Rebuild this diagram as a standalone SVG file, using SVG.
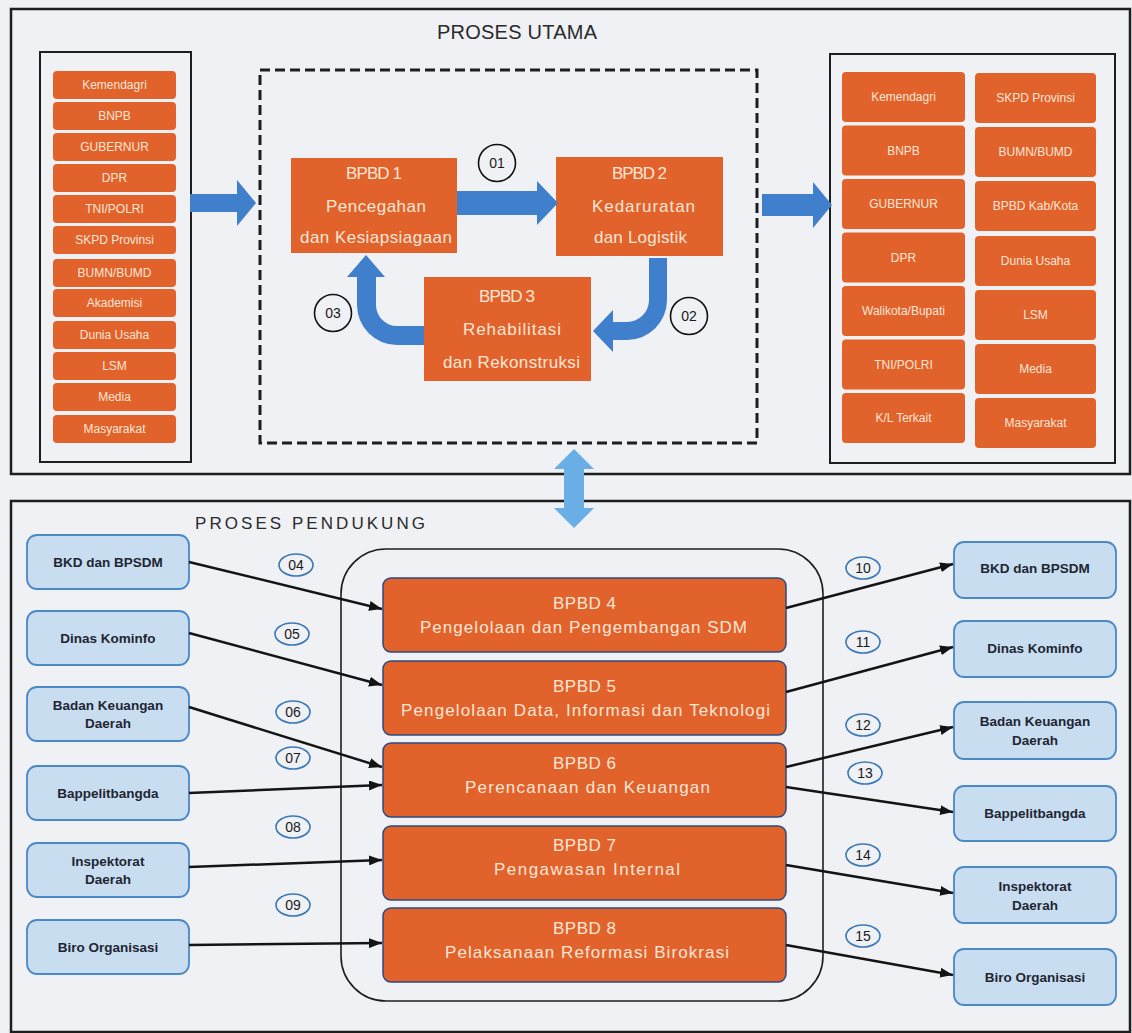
<svg xmlns="http://www.w3.org/2000/svg" width="1132" height="1033" viewBox="0 0 1132 1033">
<defs>
<style>
.frame{fill:none;stroke:#1e1e1e;stroke-width:2.5}
.list{fill:none;stroke:#1e1e1e;stroke-width:2}
.ob{fill:#e2622b;rx:4px}
.obt{font-family:"Liberation Sans",Arial,sans-serif;font-size:12px;fill:#fde6d6;text-anchor:middle}
.big{fill:#e2622b}
.bigt{font-family:"Liberation Sans",Arial,sans-serif;font-size:17px;fill:#fde6d6;text-anchor:middle}
.sup{fill:#e2622b;stroke:#2d4a80;stroke-width:1.5}
.bb{fill:#c8ddef;stroke:#4a88c6;stroke-width:1.8}
.bbt{font-family:"Liberation Sans",Arial,sans-serif;font-size:13.5px;font-weight:bold;fill:#1f2633;text-anchor:middle}
.arr{fill:#3f7fcc}
.lbl{fill:none;stroke:#111;stroke-width:1.6}
.lblt{font-family:"Liberation Sans",Arial,sans-serif;font-size:14px;fill:#1a1a1a;text-anchor:middle}
.el{fill:none;stroke:#3a78b8;stroke-width:1.6}
.con{stroke:#141414;stroke-width:2.5;fill:none;marker-end:url(#ah)}
.title{font-family:"Liberation Sans",Arial,sans-serif;font-size:20px;fill:#2a2a2a}
</style>
<marker id="ah" markerUnits="userSpaceOnUse" markerWidth="13" markerHeight="10" refX="13" refY="5" orient="auto">
<path d="M0,0 L13,5 L0,10 z" fill="#141414"/>
</marker>
</defs>
<rect x="0" y="0" width="1132" height="1033" fill="#eff1f5"/>

<g id="proses-utama">
<rect class="frame" x="11" y="9" width="1119" height="465"/>
<text class="title" x="517" y="39" text-anchor="middle" textLength="160" lengthAdjust="spacing">PROSES UTAMA</text>
</g>

<g id="stakeholders-in">
<rect class="list" x="40" y="52" width="151" height="410"/>
<rect class="ob" x="53" y="71" width="123" height="28"/><text class="obt" x="114.5" y="89">Kemendagri</text>
<rect class="ob" x="53" y="102" width="123" height="28"/><text class="obt" x="114.5" y="120">BNPB</text>
<rect class="ob" x="53" y="133" width="123" height="28"/><text class="obt" x="114.5" y="151">GUBERNUR</text>
<rect class="ob" x="53" y="164" width="123" height="28"/><text class="obt" x="114.5" y="182">DPR</text>
<rect class="ob" x="53" y="195" width="123" height="28"/><text class="obt" x="114.5" y="213">TNI/POLRI</text>
<rect class="ob" x="53" y="226" width="123" height="28"/><text class="obt" x="114.5" y="244">SKPD Provinsi</text>
<rect class="ob" x="53" y="259" width="123" height="28"/><text class="obt" x="114.5" y="277">BUMN/BUMD</text>
<rect class="ob" x="53" y="289" width="123" height="28"/><text class="obt" x="114.5" y="307">Akademisi</text>
<rect class="ob" x="53" y="321" width="123" height="28"/><text class="obt" x="114.5" y="339">Dunia Usaha</text>
<rect class="ob" x="53" y="352" width="123" height="28"/><text class="obt" x="114.5" y="370">LSM</text>
<rect class="ob" x="53" y="383" width="123" height="28"/><text class="obt" x="114.5" y="401">Media</text>
<rect class="ob" x="53" y="415" width="123" height="28"/><text class="obt" x="114.5" y="433">Masyarakat</text>
</g>

<g id="stakeholders-out">
<rect class="list" x="830" y="54" width="285" height="409"/>
<rect class="ob" x="842" y="72" width="123" height="50"/><text class="obt" x="903.5" y="101">Kemendagri</text>
<rect class="ob" x="842" y="125.5" width="123" height="50"/><text class="obt" x="903.5" y="154.5">BNPB</text>
<rect class="ob" x="842" y="179" width="123" height="50"/><text class="obt" x="903.5" y="208">GUBERNUR</text>
<rect class="ob" x="842" y="232.5" width="123" height="50"/><text class="obt" x="903.5" y="261.5">DPR</text>
<rect class="ob" x="842" y="286" width="123" height="50"/><text class="obt" x="903.5" y="315">Walikota/Bupati</text>
<rect class="ob" x="842" y="339.5" width="123" height="50"/><text class="obt" x="903.5" y="368.5">TNI/POLRI</text>
<rect class="ob" x="842" y="393" width="123" height="50"/><text class="obt" x="903.5" y="422">K/L Terkait</text>
<rect class="ob" x="975" y="73" width="121" height="50"/><text class="obt" x="1035.5" y="102">SKPD Provinsi</text>
<rect class="ob" x="975" y="127" width="121" height="50"/><text class="obt" x="1035.5" y="156">BUMN/BUMD</text>
<rect class="ob" x="975" y="181" width="121" height="50"/><text class="obt" x="1035.5" y="210">BPBD Kab/Kota</text>
<rect class="ob" x="975" y="236" width="121" height="50"/><text class="obt" x="1035.5" y="265">Dunia Usaha</text>
<rect class="ob" x="975" y="290" width="121" height="50"/><text class="obt" x="1035.5" y="319">LSM</text>
<rect class="ob" x="975" y="344" width="121" height="50"/><text class="obt" x="1035.5" y="373">Media</text>
<rect class="ob" x="975" y="398" width="121" height="50"/><text class="obt" x="1035.5" y="427">Masyarakat</text>
</g>

<g id="core-frame">
<rect x="260" y="70" width="497" height="373" fill="none" stroke="#1e1e1e" stroke-width="3" stroke-dasharray="10 5"/>
</g>

<g id="bpbd1">
<rect class="big" x="291" y="158" width="166" height="95"/>
<text class="bigt" x="374" y="179" textLength="56">BPBD 1</text>
<text class="bigt" x="376" y="212" textLength="100">Pencegahan</text>
<text class="bigt" x="376" y="243" textLength="152">dan Kesiapsiagaan</text>
</g>
<g id="bpbd2">
<rect class="big" x="556" y="157" width="167" height="99"/>
<text class="bigt" x="639.5" y="179" textLength="55">BPBD 2</text>
<text class="bigt" x="643.5" y="212" textLength="103">Kedaruratan</text>
<text class="bigt" x="640.5" y="243" textLength="93">dan Logistik</text>
</g>
<g id="bpbd3">
<rect class="big" x="424" y="277" width="167" height="104"/>
<text class="bigt" x="507" y="302" textLength="56">BPBD 3</text>
<text class="bigt" x="512" y="335" textLength="98">Rehabilitasi</text>
<text class="bigt" x="511.5" y="368" textLength="137">dan Rekonstruksi</text>
</g>

<g id="main-connectors">
<polygon class="arr" points="190,194 237,194 237,180 256,203 237,226 237,212 190,212"/>
<polygon class="arr" points="762,194 813,194 813,182 832,205 813,228 813,216 762,216"/>
<polygon class="arr" points="457,191 537,191 537,181 558,203 537,225 537,215 457,215"/>
<path class="arr" d="M649,258 L667,258 L667,300 A40,40 0 0 1 627,340 L613,340 L613,352 L593,331 L613,310 L613,322 L627,322 A22,22 0 0 0 649,300 Z"/>
<path class="arr" d="M424,326 L397,326 A21,21 0 0 1 376,305 L376,277 L385,277 L366,255 L347,277 L357,277 L357,305 A40,40 0 0 0 397,345 L424,345 Z"/>
<circle class="lbl" cx="497" cy="163" r="18.5"/><text class="lblt" x="497" y="168">01</text>
<circle class="lbl" cx="689" cy="316" r="18.5"/><text class="lblt" x="689" y="321">02</text>
<circle class="lbl" cx="333" cy="313" r="18.5"/><text class="lblt" x="333" y="318">03</text>
</g>

<g id="proses-pendukung">
<rect class="frame" x="11" y="501" width="1119" height="531"/>
<text class="title" x="195" y="529" font-size="17" style="font-size:17px" textLength="230" lengthAdjust="spacing">PROSES PENDUKUNG</text>
<rect x="341" y="549" width="482" height="452" rx="45" fill="none" stroke="#1e1e1e" stroke-width="1.6"/>
</g>

<g id="double-arrow">
<polygon points="574,449 594,469 584,469 584,508 594,508 574,528 554,508 564,508 564,469 554,469" fill="#6aaee6"/>
</g>

<g id="bpbd4"><rect class="sup" x="383" y="578" width="403" height="74" rx="8"/>
<text class="bigt" x="584.5" y="609" textLength="63">BPBD 4</text>
<text class="bigt" x="583.5" y="633" textLength="327">Pengelolaan dan Pengembangan SDM</text></g>
<g id="bpbd5"><rect class="sup" x="383" y="661" width="403" height="74" rx="8"/>
<text class="bigt" x="584.5" y="692" textLength="63">BPBD 5</text>
<text class="bigt" x="585.5" y="716" textLength="369">Pengelolaan Data, Informasi dan Teknologi</text></g>
<g id="bpbd6"><rect class="sup" x="383" y="743" width="403" height="74" rx="8"/>
<text class="bigt" x="584.5" y="769" textLength="63">BPBD 6</text>
<text class="bigt" x="587.5" y="793" textLength="245">Perencanaan dan Keuangan</text></g>
<g id="bpbd7"><rect class="sup" x="383" y="826" width="403" height="74" rx="8"/>
<text class="bigt" x="584.5" y="851" textLength="63">BPBD 7</text>
<text class="bigt" x="587" y="875" textLength="186">Pengawasan Internal</text></g>
<g id="bpbd8"><rect class="sup" x="383" y="908" width="403" height="74" rx="8"/>
<text class="bigt" x="584.5" y="934" textLength="63">BPBD 8</text>
<text class="bigt" x="587" y="958" textLength="284">Pelaksanaan Reformasi Birokrasi</text></g>

<g id="left-partners">
<rect class="bb" x="27" y="535" width="162" height="54" rx="10"/><text class="bbt" x="108" y="567">BKD dan BPSDM</text>
<rect class="bb" x="27" y="611" width="162" height="54" rx="10"/><text class="bbt" x="108" y="643">Dinas Kominfo</text>
<rect class="bb" x="27" y="687" width="162" height="54" rx="10"/><text class="bbt" x="108" y="710">Badan Keuangan</text><text class="bbt" x="108" y="728">Daerah</text>
<rect class="bb" x="27" y="766" width="162" height="54" rx="10"/><text class="bbt" x="108" y="798">Bappelitbangda</text>
<rect class="bb" x="27" y="843" width="162" height="54" rx="10"/><text class="bbt" x="108" y="866">Inspektorat</text><text class="bbt" x="108" y="884">Daerah</text>
<rect class="bb" x="27" y="920" width="162" height="54" rx="10"/><text class="bbt" x="108" y="952">Biro Organisasi</text>
</g>

<g id="right-partners">
<rect class="bb" x="954" y="542" width="162" height="56" rx="10"/><text class="bbt" x="1035" y="573">BKD dan BPSDM</text>
<rect class="bb" x="954" y="621" width="162" height="56" rx="10"/><text class="bbt" x="1035" y="653">Dinas Kominfo</text>
<rect class="bb" x="954" y="702" width="162" height="57" rx="10"/><text class="bbt" x="1035" y="726">Badan Keuangan</text><text class="bbt" x="1035" y="745">Daerah</text>
<rect class="bb" x="954" y="786" width="162" height="55" rx="10"/><text class="bbt" x="1035" y="818">Bappelitbangda</text>
<rect class="bb" x="954" y="867" width="162" height="56" rx="10"/><text class="bbt" x="1035" y="891">Inspektorat</text><text class="bbt" x="1035" y="910">Daerah</text>
<rect class="bb" x="954" y="949" width="162" height="56" rx="10"/><text class="bbt" x="1035" y="982">Biro Organisasi</text>
</g>

<g id="support-connectors">
<line class="con" x1="189" y1="562" x2="382" y2="609"/>
<line class="con" x1="189" y1="633" x2="382" y2="685"/>
<line class="con" x1="189" y1="707" x2="382" y2="767"/>
<line class="con" x1="189" y1="793" x2="382" y2="785"/>
<line class="con" x1="189" y1="867" x2="382" y2="860"/>
<line class="con" x1="189" y1="945" x2="382" y2="943"/>
<line class="con" x1="786" y1="608" x2="953" y2="564"/>
<line class="con" x1="786" y1="692" x2="953" y2="647"/>
<line class="con" x1="786" y1="767" x2="953" y2="727"/>
<line class="con" x1="786" y1="787" x2="953" y2="812"/>
<line class="con" x1="786" y1="865" x2="953" y2="893"/>
<line class="con" x1="786" y1="945" x2="953" y2="975"/>
<ellipse class="el" cx="296" cy="565" rx="17" ry="11"/><text class="lblt" x="296" y="570">04</text>
<ellipse class="el" cx="292" cy="634" rx="17" ry="11"/><text class="lblt" x="292" y="639">05</text>
<ellipse class="el" cx="293" cy="712" rx="17" ry="11"/><text class="lblt" x="293" y="717">06</text>
<ellipse class="el" cx="293" cy="758" rx="17" ry="11"/><text class="lblt" x="293" y="763">07</text>
<ellipse class="el" cx="293" cy="827" rx="17" ry="11"/><text class="lblt" x="293" y="832">08</text>
<ellipse class="el" cx="293" cy="905" rx="17" ry="11"/><text class="lblt" x="293" y="910">09</text>
<ellipse class="el" cx="863" cy="568" rx="17" ry="11"/><text class="lblt" x="863" y="573">10</text>
<ellipse class="el" cx="863" cy="642" rx="17" ry="11"/><text class="lblt" x="863" y="647">11</text>
<ellipse class="el" cx="863" cy="725" rx="17" ry="11"/><text class="lblt" x="863" y="730">12</text>
<ellipse class="el" cx="865" cy="773" rx="17" ry="11"/><text class="lblt" x="865" y="778">13</text>
<ellipse class="el" cx="863" cy="855" rx="17" ry="11"/><text class="lblt" x="863" y="860">14</text>
<ellipse class="el" cx="863" cy="936" rx="17" ry="11"/><text class="lblt" x="863" y="941">15</text>
</g>
</svg>
